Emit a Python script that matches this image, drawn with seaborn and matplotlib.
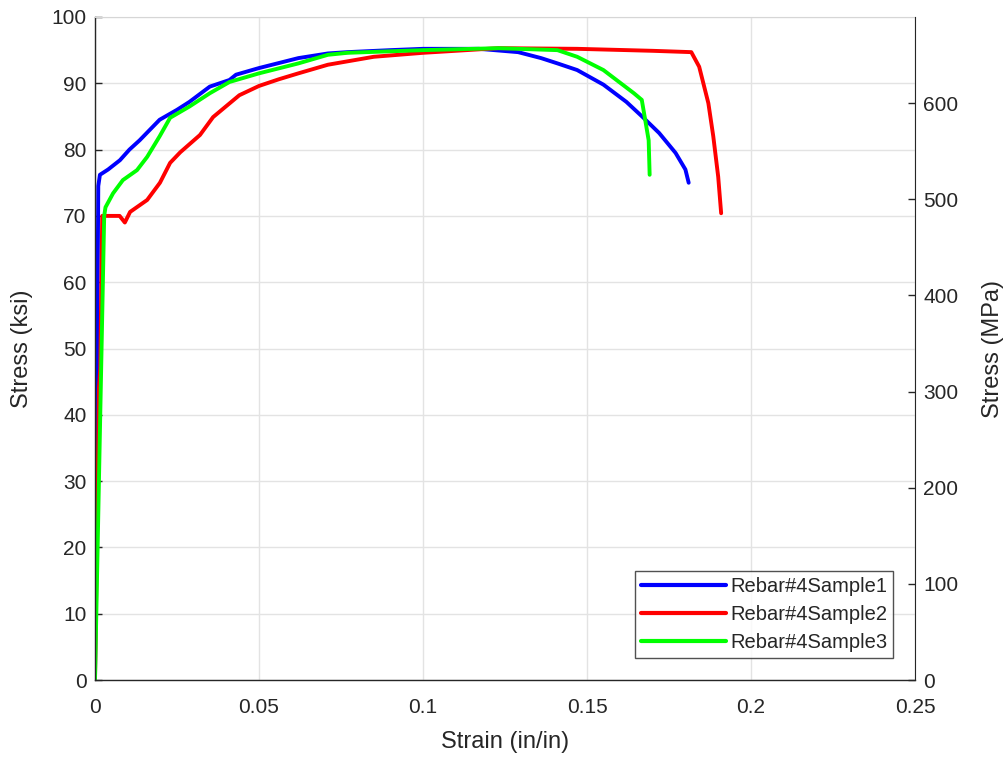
import matplotlib
matplotlib.use("Agg")
import matplotlib.pyplot as plt
import seaborn as sns
import pandas as pd
import numpy as np

# ---- data ----
s1_strain = [0, 0.0010, 0.0015, 0.004, 0.0076, 0.0105, 0.0136, 0.0197, 0.025, 0.0288, 0.035, 0.041,
             0.043, 0.05, 0.062, 0.071, 0.077, 0.09, 0.1, 0.117, 0.129, 0.136, 0.141, 0.147, 0.155,
             0.162, 0.167, 0.172, 0.177, 0.180, 0.181]
s1_stress = [0, 74.5, 76.2, 77.0, 78.4, 80.0, 81.4, 84.5, 86.0, 87.2, 89.5, 90.5,
             91.3, 92.3, 93.8, 94.5, 94.7, 95.0, 95.2, 95.2, 94.7, 93.8, 93.0, 92.0, 89.8,
             87.2, 84.9, 82.5, 79.5, 77.0, 75.0]

s2_strain = [0, 0.0012, 0.0016, 0.0022, 0.004, 0.0075, 0.0091, 0.0107, 0.0159, 0.0198, 0.0229,
             0.026, 0.032, 0.036, 0.044, 0.05, 0.056, 0.062, 0.071, 0.085, 0.1, 0.123, 0.147, 0.17,
             0.1818, 0.1842, 0.187, 0.1885, 0.190, 0.1909]
s2_stress = [0, 44.0, 47.0, 70.0, 70.0, 70.0, 69.0, 70.6, 72.4, 75.0, 78.0,
             79.6, 82.2, 84.9, 88.2, 89.6, 90.6, 91.5, 92.8, 94.0, 94.6, 95.3, 95.2, 94.9,
             94.7, 92.5, 87.0, 82.0, 75.9, 70.4]

s3_strain = [0, 0.0028, 0.0032, 0.0055, 0.0085, 0.0128, 0.0159, 0.0197, 0.0229, 0.0288, 0.035,
             0.041, 0.05, 0.062, 0.071, 0.077, 0.1, 0.123, 0.141, 0.147, 0.155, 0.1643,
             0.1667, 0.1676, 0.1688, 0.1691]
s3_stress = [0, 70.0, 71.3, 73.4, 75.4, 76.9, 78.9, 82.0, 84.8, 86.5, 88.5,
             90.2, 91.5, 93.0, 94.3, 94.6, 95.0, 95.3, 95.0, 94.0, 92.0, 88.5,
             87.5, 84.9, 81.4, 76.2]

labels = ["Rebar#4Sample1", "Rebar#4Sample2", "Rebar#4Sample3"]
colors = ["#0000ff", "#ff0000", "#00ff00"]

x_ticks = [0, 0.05, 0.1, 0.15, 0.2, 0.25]
x_tick_labels = ["0", "0.05", "0.1", "0.15", "0.2", "0.25"]
y_ticks = list(range(0, 101, 10))
mpa_ticks = list(range(0, 601, 100))
KSI_TO_MPA = 6.894757

frames = []
for lab, xs, ys in zip(labels, [s1_strain, s2_strain, s3_strain], [s1_stress, s2_stress, s3_stress]):
    frames.append(pd.DataFrame({"strain": xs, "stress": ys, "sample": lab}))
df = pd.concat(frames, ignore_index=True)

sns.set_style("white")
plt.rcParams["font.family"] = ["Liberation Sans", "DejaVu Sans"]

fig = plt.figure(figsize=(10.08, 7.57), dpi=100)
ax = fig.add_axes([95/1008, 77/757, 820/1008, 663/757])

sns.lineplot(data=df, x="strain", y="stress", hue="sample", palette=colors, sort=False,
             estimator=None, linewidth=2.8, ax=ax, legend=True)

ax.set_xlim(0, 0.25)
ax.set_ylim(0, 100)
ax.set_xticks(x_ticks)
ax.set_xticklabels(x_tick_labels)
ax.set_yticks(y_ticks)
ax.grid(True, color="#e3e3e3", linewidth=1.0)
ax.set_axisbelow(True)
ax.tick_params(direction="in", length=5, width=1, labelsize=15, colors="#262626", pad=6)
ax.tick_params(axis="x", pad=13)
ax.set_xlabel("Strain (in/in)", fontsize=17, color="#262626", labelpad=10)
ax.set_ylabel("Stress (ksi)", fontsize=17, color="#262626", labelpad=13)
for side in ["left", "bottom"]:
    ax.spines[side].set_color("#262626")
    ax.spines[side].set_linewidth(1.0)
ax.spines["top"].set_color("#d6d6d6")
ax.spines["right"].set_visible(False)

ax2 = ax.twinx()
ax2.set_ylim(0, 100 * KSI_TO_MPA)
ax2.set_yticks(mpa_ticks)
ax2.tick_params(direction="in", length=5, width=1, labelsize=15, colors="#262626", pad=6)
ax2.set_ylabel("Stress (MPa)", fontsize=17, color="#262626", labelpad=17)
for side in ["top", "left", "bottom"]:
    ax2.spines[side].set_visible(False)
ax2.spines["right"].set_color("#262626")
ax2.grid(False)

handles, labs = ax.get_legend_handles_labels()
leg = ax.legend(handles, labs, loc="lower right", bbox_to_anchor=(0.9735, 0.033),
                fontsize=14.5, frameon=True, fancybox=False, edgecolor="#262626",
                handlelength=4.2, handletextpad=0.2, borderpad=0.3, labelspacing=0.45,
                borderaxespad=0)
leg.get_frame().set_linewidth(1.0)
for line in leg.get_lines():
    line.set_linewidth(3.0)

fig.savefig("out.png", dpi=100)
